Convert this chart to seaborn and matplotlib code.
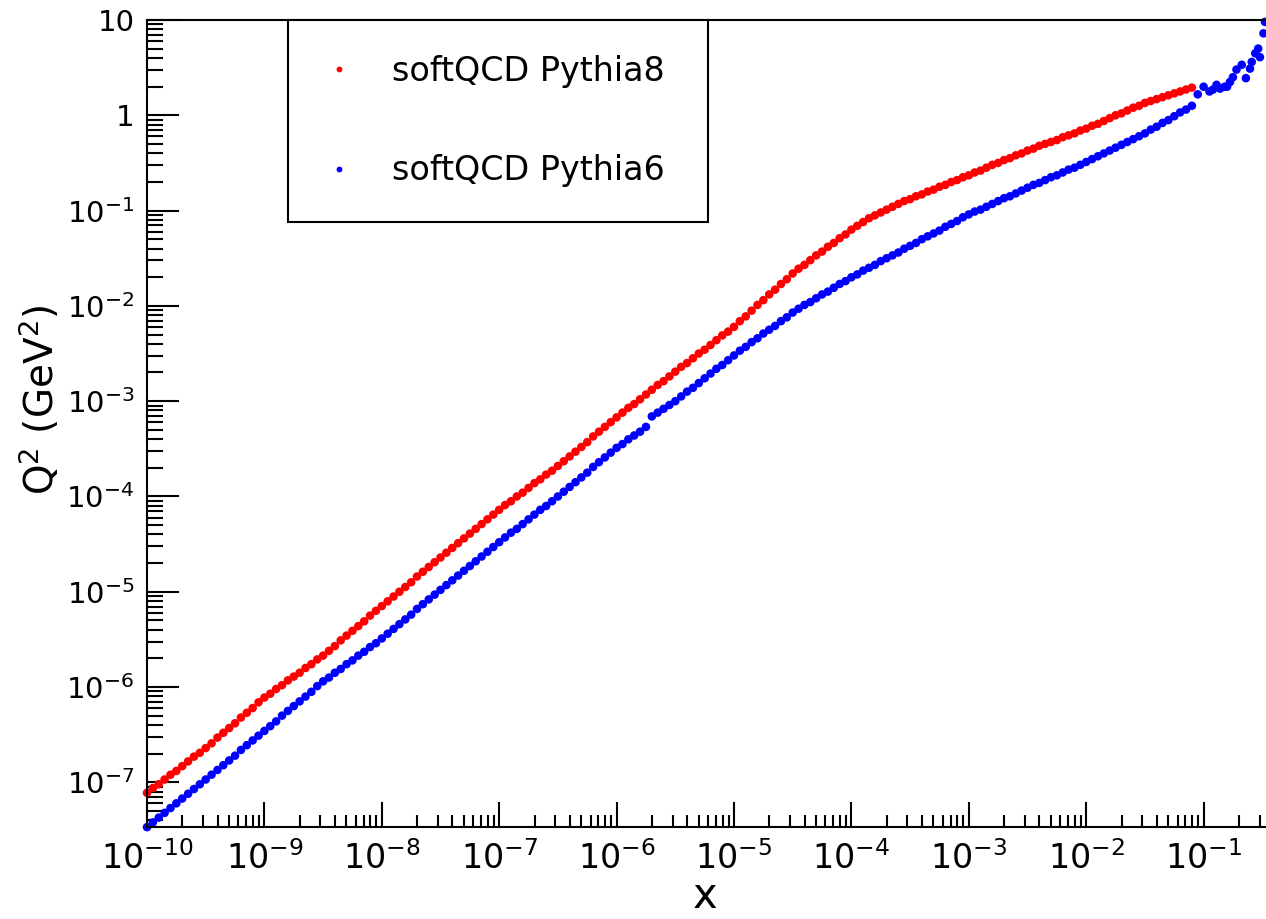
import numpy as np
import pandas as pd
import matplotlib
matplotlib.use("Agg")
import matplotlib.pyplot as plt
from matplotlib.lines import Line2D
from matplotlib.ticker import FixedLocator, FuncFormatter, NullFormatter
import seaborn as sns

# log10(x) bin centres shared by both generators
log_x_bins = [
    -10.00, -9.95, -9.90, -9.85, -9.80, -9.75, -9.70, -9.65, -9.60, -9.55,
    -9.50, -9.45, -9.40, -9.35, -9.30, -9.25, -9.20, -9.15, -9.10, -9.05,
    -9.00, -8.95, -8.90, -8.85, -8.80, -8.75, -8.70, -8.65, -8.60, -8.55,
    -8.50, -8.45, -8.40, -8.35, -8.30, -8.25, -8.20, -8.15, -8.10, -8.05,
    -8.00, -7.95, -7.90, -7.85, -7.80, -7.75, -7.70, -7.65, -7.60, -7.55,
    -7.50, -7.45, -7.40, -7.35, -7.30, -7.25, -7.20, -7.15, -7.10, -7.05,
    -7.00, -6.95, -6.90, -6.85, -6.80, -6.75, -6.70, -6.65, -6.60, -6.55,
    -6.50, -6.45, -6.40, -6.35, -6.30, -6.25, -6.20, -6.15, -6.10, -6.05,
    -6.00, -5.95, -5.90, -5.85, -5.80, -5.75, -5.70, -5.65, -5.60, -5.55,
    -5.50, -5.45, -5.40, -5.35, -5.30, -5.25, -5.20, -5.15, -5.10, -5.05,
    -5.00, -4.95, -4.90, -4.85, -4.80, -4.75, -4.70, -4.65, -4.60, -4.55,
    -4.50, -4.45, -4.40, -4.35, -4.30, -4.25, -4.20, -4.15, -4.10, -4.05,
    -4.00, -3.95, -3.90, -3.85, -3.80, -3.75, -3.70, -3.65, -3.60, -3.55,
    -3.50, -3.45, -3.40, -3.35, -3.30, -3.25, -3.20, -3.15, -3.10, -3.05,
    -3.00, -2.95, -2.90, -2.85, -2.80, -2.75, -2.70, -2.65, -2.60, -2.55,
    -2.50, -2.45, -2.40, -2.35, -2.30, -2.25, -2.20, -2.15, -2.10, -2.05,
    -2.00, -1.95, -1.90, -1.85, -1.80, -1.75, -1.70, -1.65, -1.60, -1.55,
    -1.50, -1.45, -1.40, -1.35, -1.30, -1.25, -1.20, -1.15, -1.10, -1.05,
    -1.00,
]

# log10(<Q^2 / GeV^2>) per x bin, softQCD Pythia8 (no entries above x ~ 0.08)
log_q2_pythia8 = [
    -7.11, -7.06, -7.02, -6.97, -6.92, -6.88, -6.83, -6.78, -6.73, -6.69,
    -6.64, -6.59, -6.53, -6.48, -6.43, -6.38, -6.32, -6.27, -6.22, -6.16,
    -6.11, -6.07, -6.02, -5.98, -5.93, -5.89, -5.85, -5.80, -5.76, -5.71,
    -5.67, -5.62, -5.57, -5.51, -5.46, -5.41, -5.36, -5.31, -5.25, -5.20,
    -5.15, -5.10, -5.05, -5.00, -4.95, -4.90, -4.84, -4.79, -4.74, -4.69,
    -4.64, -4.59, -4.54, -4.49, -4.44, -4.39, -4.34, -4.29, -4.24, -4.19,
    -4.14, -4.09, -4.05, -4.00, -3.96, -3.91, -3.86, -3.82, -3.77, -3.73,
    -3.68, -3.63, -3.58, -3.53, -3.48, -3.43, -3.37, -3.32, -3.27, -3.22,
    -3.17, -3.12, -3.07, -3.03, -2.98, -2.93, -2.88, -2.83, -2.79, -2.74,
    -2.69, -2.64, -2.60, -2.55, -2.50, -2.46, -2.41, -2.36, -2.31, -2.27,
    -2.22, -2.16, -2.11, -2.05, -1.99, -1.94, -1.88, -1.83, -1.77, -1.72,
    -1.66, -1.61, -1.57, -1.52, -1.47, -1.43, -1.38, -1.34, -1.29, -1.25,
    -1.20, -1.16, -1.12, -1.08, -1.05, -1.02, -0.99, -0.96, -0.93, -0.90,
    -0.88, -0.85, -0.83, -0.80, -0.78, -0.75, -0.73, -0.70, -0.68, -0.65,
    -0.63, -0.60, -0.58, -0.55, -0.52, -0.50, -0.47, -0.45, -0.42, -0.40,
    -0.37, -0.35, -0.32, -0.30, -0.28, -0.26, -0.23, -0.21, -0.19, -0.16,
    -0.14, -0.11, -0.09, -0.06, -0.03, -0.00, 0.02, 0.05, 0.08, 0.10,
    0.13, 0.15, 0.17, 0.19, 0.21, 0.23, 0.25, 0.27, 0.29, np.nan,
    np.nan,
]

# log10(<Q^2 / GeV^2>) per x bin, softQCD Pythia6
log_q2_pythia6 = [
    -7.47, -7.42, -7.37, -7.32, -7.27, -7.22, -7.17, -7.12, -7.07, -7.02,
    -6.97, -6.92, -6.87, -6.82, -6.77, -6.72, -6.66, -6.61, -6.56, -6.51,
    -6.46, -6.41, -6.36, -6.30, -6.25, -6.20, -6.15, -6.10, -6.05, -5.99,
    -5.94, -5.90, -5.85, -5.81, -5.76, -5.72, -5.67, -5.63, -5.58, -5.54,
    -5.49, -5.44, -5.39, -5.34, -5.29, -5.24, -5.18, -5.13, -5.08, -5.03,
    -4.98, -4.93, -4.88, -4.83, -4.78, -4.73, -4.68, -4.63, -4.58, -4.53,
    -4.48, -4.43, -4.38, -4.34, -4.29, -4.24, -4.19, -4.14, -4.10, -4.05,
    -4.00, -3.95, -3.90, -3.85, -3.80, -3.75, -3.69, -3.64, -3.59, -3.54,
    -3.49, -3.45, -3.40, -3.36, -3.32, -3.27, -3.16, -3.12, -3.08, -3.04,
    -3.00, -2.95, -2.90, -2.86, -2.81, -2.76, -2.71, -2.66, -2.62, -2.57,
    -2.52, -2.47, -2.43, -2.38, -2.34, -2.29, -2.25, -2.21, -2.16, -2.12,
    -2.07, -2.03, -1.99, -1.96, -1.92, -1.88, -1.85, -1.81, -1.77, -1.74,
    -1.70, -1.67, -1.63, -1.60, -1.57, -1.53, -1.50, -1.47, -1.44, -1.40,
    -1.37, -1.34, -1.30, -1.27, -1.24, -1.21, -1.17, -1.14, -1.11, -1.07,
    -1.04, -1.01, -0.99, -0.96, -0.93, -0.90, -0.87, -0.85, -0.82, -0.79,
    -0.76, -0.73, -0.71, -0.68, -0.65, -0.63, -0.60, -0.57, -0.55, -0.52,
    -0.49, -0.46, -0.43, -0.40, -0.37, -0.34, -0.31, -0.28, -0.25, -0.22,
    -0.19, -0.15, -0.12, -0.08, -0.05, -0.01, 0.03, 0.06, 0.10, 0.22,
    0.30,
]

# sparsely populated high-x bins of Pythia6
log_x_pythia6_tail = [-0.95, -0.92, -0.89, -0.86, -0.82, -0.80, -0.775, -0.75,
                      -0.72, -0.675, -0.64, -0.605, -0.59, -0.56, -0.535,
                      -0.52, -0.49, -0.477]
log_q2_pythia6_tail = [0.25, 0.27, 0.32, 0.28, 0.30, 0.30, 0.35, 0.40,
                       0.48, 0.53, 0.39, 0.49, 0.56, 0.65, 0.70,
                       0.61, 0.86, 0.98]

series_labels = ["softQCD Pythia8", "softQCD Pythia6"]
series_colors = ["#ff0000", "#0000ff"]

x_range = (1e-10, 0.34)
q2_range = (3.4e-8, 10.0)
x_decades = list(range(-10, 0))     # labelled decades on the x axis
q2_decades = list(range(-7, 2))     # labelled decades on the Q^2 axis

p8 = pd.DataFrame({
    "x": 10 ** np.array(log_x_bins, dtype=float),
    "Q2": 10 ** np.array(log_q2_pythia8, dtype=float),
    "sample": series_labels[0],
})
p6 = pd.DataFrame({
    "x": 10 ** np.array(log_x_bins + log_x_pythia6_tail, dtype=float),
    "Q2": 10 ** np.array(log_q2_pythia6 + log_q2_pythia6_tail, dtype=float),
    "sample": series_labels[1],
})
df = pd.concat([p8, p6], ignore_index=True).dropna()

sns.set_style("white")
plt.rcParams["font.family"] = ["DejaVu Sans"]
plt.rcParams["mathtext.fontset"] = "dejavusans"
for key in ("text.color", "axes.labelcolor", "xtick.color", "ytick.color",
            "axes.edgecolor"):
    plt.rcParams[key] = "black"

W, H = 1266, 919
fig = plt.figure(figsize=(W / 100, H / 100), dpi=100)
ax = fig.add_axes([147 / W, 92 / H, 1119 / W, 807 / H])

sns.scatterplot(data=df, x="x", y="Q2", hue="sample", hue_order=series_labels,
                palette=series_colors, s=38, linewidth=0, alpha=1.0,
                ax=ax, legend=False, clip_on=False)

ax.set_xscale("log")
ax.set_yscale("log")
ax.set_xlim(*x_range)
ax.set_ylim(*q2_range)
ax.set_xlabel("")
ax.set_ylabel("")


def decade_label(v, pos):
    e = int(round(np.log10(v)))
    if e == 0:
        return "1"
    if e == 1:
        return "10"
    return r"$\mathregular{10^{%d}}$" % e


def minor_positions(lo, hi):
    out = []
    for e in range(int(np.floor(np.log10(lo))), int(np.ceil(np.log10(hi))) + 1):
        for k in range(2, 10):
            v = k * 10.0 ** e
            if lo <= v <= hi:
                out.append(v)
    return out


ax.xaxis.set_major_locator(FixedLocator([10.0 ** e for e in x_decades]))
ax.yaxis.set_major_locator(FixedLocator([10.0 ** e for e in q2_decades]))
ax.xaxis.set_minor_locator(FixedLocator(minor_positions(*x_range)))
ax.yaxis.set_minor_locator(FixedLocator(minor_positions(*q2_range)))
for axis in (ax.xaxis, ax.yaxis):
    axis.set_major_formatter(FuncFormatter(decade_label))
    axis.set_minor_formatter(NullFormatter())

ax.tick_params(axis="x", which="both", direction="in", bottom=True, top=False,
               width=1.5, labelsize=24, pad=10)
ax.tick_params(axis="x", which="major", length=18)
ax.tick_params(axis="x", which="minor", length=8.8)
ax.tick_params(axis="y", which="both", direction="in", left=True, right=False,
               width=1.5, labelsize=21, pad=9)
ax.tick_params(axis="y", which="major", length=23)
ax.tick_params(axis="y", which="minor", length=11.5)

for side in ("left", "bottom", "top"):
    ax.spines[side].set_linewidth(1.5)
    ax.spines[side].set_color("black")
ax.spines["right"].set_visible(False)

fig.text(705 / W, 1 - 896 / H, "x", ha="center", va="center", fontsize=30)
fig.text(40 / W, 1 - 400 / H, r"$\mathregular{Q^{2}\ (GeV^{2})}$",
         rotation=90, ha="center", va="center", fontsize=28)

handles = [Line2D([], [], linestyle="", marker="o", markersize=4.2,
                  markeredgewidth=0, color=c) for c in series_colors]
leg = fig.legend(handles, series_labels, loc="upper left",
                 bbox_to_anchor=(288 / W, 1 - 221 / H, 420 / W, 201 / H),
                 mode="expand", borderaxespad=0, fontsize=24,
                 borderpad=1.04, labelspacing=2.0, handlelength=0.95,
                 handletextpad=1.12, frameon=True, fancybox=False,
                 framealpha=1, edgecolor="black", shadow=False)
leg.get_frame().set_linewidth(1.5)

fig.savefig("out.png", dpi=100)
